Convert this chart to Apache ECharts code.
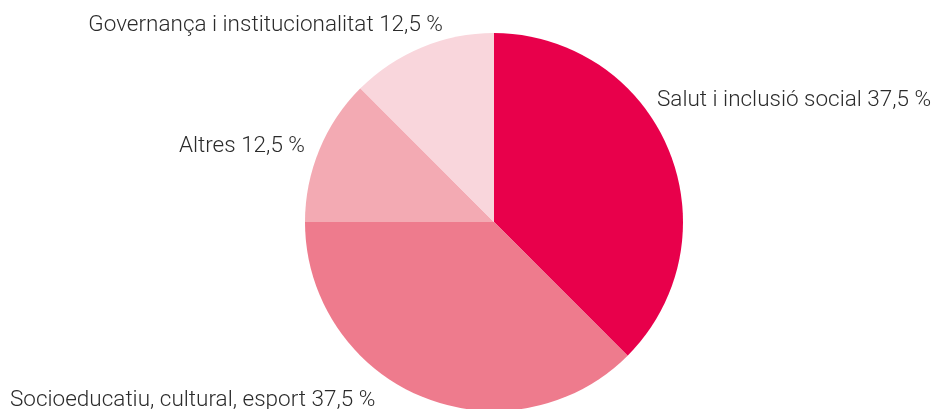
<!DOCTYPE html>
<html><head><meta charset="utf-8">
<script src="https://cdn.jsdelivr.net/npm/echarts@6/dist/echarts.min.js"></script>
<style>html,body{margin:0;padding:0;background:#fff}#c{width:935px;height:409px}</style>
</head><body><div id="c"></div>
<script>
const categories = ['Salut i inclusió social', 'Socioeducatiu, cultural, esport', 'Altres', 'Governança i institucionalitat'];
const values = [37.5, 37.5, 12.5, 12.5];
const colors = ['#E8004B', '#EE7B8D', '#F3AAB3', '#F9D6DC'];
const labelPos = [
  {x: 657, y: 100, align: 'left'},
  {x: 10, y: 400, align: 'left'},
  {x: 305, y: 146, align: 'right'},
  {x: 443, y: 25, align: 'right'}
];
const chart = echarts.init(document.getElementById('c'));
chart.setOption({
  animation: false,
  series: [{
    type: 'pie',
    center: [494, 222],
    radius: 189,
    startAngle: 90,
    clockwise: true,
    data: categories.map((n, i) => ({name: n, value: values[i], itemStyle: {color: colors[i]}})),
    label: {
      show: true,
      position: 'outside',
      overflow: 'none',
      formatter: p => p.name + ' ' + String(p.value).replace('.', ',') + ' %',
      fontFamily: 'Roboto, sans-serif',
      fontWeight: 300,
      fontSize: 22.5,
      color: '#2b2b2b'
    },
    labelLine: {show: false},
    labelLayout: p => ({
      x: labelPos[p.dataIndex].x,
      y: labelPos[p.dataIndex].y,
      align: labelPos[p.dataIndex].align,
      verticalAlign: 'middle'
    })
  }]
});
</script></body></html>
